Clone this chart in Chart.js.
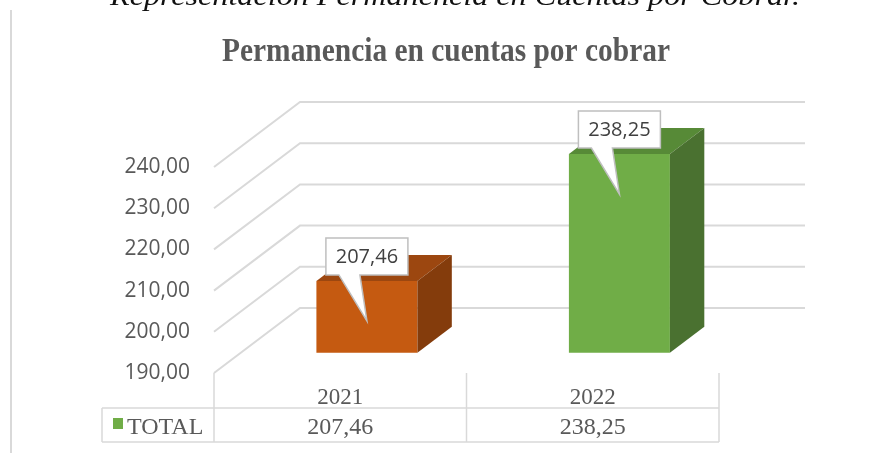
<!DOCTYPE html>
<html>
<head>
<meta charset="utf-8">
<script src="https://cdn.jsdelivr.net/npm/chart.js@4/dist/chart.umd.min.js"></script>
<style>
  html, body { margin: 0; padding: 0; background: #fff; }
</style>
</head>
<body>
<canvas id="permanencia" width="872" height="453"></canvas>
<script>
var categories = ['2021', '2022'];
var totals = [207.46, 238.25];
var yMin = 190;
var yMax = 240;
var yStep = 10;
var seriesName = 'TOTAL';

var frontColors = ['#C55A11', '#70AD47'];
var topColors = ['#9C4710', '#578A37'];
var sideColors = ['#843C0C', '#4A7130'];

// oblique 3d offsets (whole floor depth, bar sits in the middle of it)
var depthX = 86, depthY = -65;
var barShift = 0.31, barDepth = 0.4;

function fmt(v) {
    return v.toFixed(2).replace('.', ',');
}

var fake3d = {
    id: 'fake3d',
    beforeDatasetsDraw: function (chart) {
        var ctx = chart.ctx, area = chart.chartArea, y = chart.scales.y;
        ctx.save();
        ctx.strokeStyle = '#d9d9d9';
        ctx.lineWidth = 2;
        for (var v = yMin; v <= yMax; v += yStep) {
            var py = y.getPixelForValue(v);
            ctx.beginPath();
            ctx.moveTo(area.left, py);
            ctx.lineTo(area.left + depthX, py + depthY);
            ctx.lineTo(area.right + depthX, py + depthY);
            ctx.stroke();
        }
        ctx.restore();
        ctx.save();
        ctx.translate(depthX * barShift, depthY * barShift);
    },
    afterDatasetsDraw: function (chart) {
        var ctx = chart.ctx;
        ctx.restore();
        var dx = depthX * barShift, dy = depthY * barShift;
        var bx = depthX * barDepth, by = depthY * barDepth;
        var bars = chart.getDatasetMeta(0).data;
        bars.forEach(function (el, i) {
            var x0 = el.x - el.width / 2 + dx, x1 = el.x + el.width / 2 + dx;
            var yt = el.y + dy, yb = el.base + dy;
            // top face
            ctx.fillStyle = topColors[i];
            ctx.beginPath();
            ctx.moveTo(x0, yt);
            ctx.lineTo(x1, yt);
            ctx.lineTo(x1 + bx, yt + by);
            ctx.lineTo(x0 + bx, yt + by);
            ctx.closePath();
            ctx.fill();
            // side face
            ctx.fillStyle = sideColors[i];
            ctx.beginPath();
            ctx.moveTo(x1, yt);
            ctx.lineTo(x1 + bx, yt + by);
            ctx.lineTo(x1 + bx, yb + by);
            ctx.lineTo(x1, yb);
            ctx.closePath();
            ctx.fill();

            // callout label
            var cx = el.x + dx;
            var w = 82, h = 37;
            var left = cx - w / 2, bottom = yt - 6, top = bottom - h;
            ctx.beginPath();
            ctx.moveTo(left, top);
            ctx.lineTo(left + w, top);
            ctx.lineTo(left + w, bottom);
            ctx.lineTo(cx - 7, bottom);
            ctx.lineTo(cx, yt + 40);
            ctx.lineTo(cx - 28, bottom);
            ctx.lineTo(left, bottom);
            ctx.closePath();
            ctx.fillStyle = '#ffffff';
            ctx.fill();
            ctx.strokeStyle = '#bfbfbf';
            ctx.lineWidth = 1.5;
            ctx.stroke();
            ctx.fillStyle = '#404040';
            ctx.font = '20px "Open Sans"';
            ctx.textAlign = 'center';
            ctx.textBaseline = 'middle';
            ctx.fillText(fmt(totals[i]), cx, (top + bottom) / 2 + 1);
        });
    },
    afterDraw: function (chart) {
        var ctx = chart.ctx, area = chart.chartArea, x = chart.scales.x;
        ctx.save();
        // frame line on the left
        ctx.strokeStyle = '#d9d9d9';
        ctx.lineWidth = 2;
        ctx.beginPath();
        ctx.moveTo(11, 10);
        ctx.lineTo(11, 453);
        ctx.stroke();

        // data table
        var tTop = area.bottom, rowY = 408, tBottom = 442, tLeft = 102;
        var half = (x.getPixelForValue(1) - x.getPixelForValue(0)) / 2;
        ctx.lineWidth = 1.5;
        ctx.beginPath();
        var edges = [area.left];
        categories.forEach(function (c, i) {
            edges.push(x.getPixelForValue(i) + half);
        });
        edges[edges.length - 1] = area.right;
        edges.forEach(function (ex) {
            ctx.moveTo(ex, tTop);
            ctx.lineTo(ex, tBottom);
        });
        ctx.moveTo(tLeft, rowY);
        ctx.lineTo(tLeft, tBottom);
        ctx.moveTo(tLeft, rowY);
        ctx.lineTo(area.right, rowY);
        ctx.moveTo(tLeft, tBottom);
        ctx.lineTo(area.right, tBottom);
        ctx.stroke();

        ctx.fillStyle = '#595959';
        ctx.textAlign = 'center';
        ctx.textBaseline = 'alphabetic';
        categories.forEach(function (c, i) {
            var px = x.getPixelForValue(i);
            ctx.font = '23px "Liberation Serif"';
            ctx.fillText(c, px, 404);
            ctx.font = '24px "Liberation Serif"';
            ctx.fillText(fmt(totals[i]), px, 434);
        });
        ctx.fillStyle = frontColors[1];
        ctx.fillRect(113, 418, 10, 11);
        ctx.fillStyle = '#595959';
        ctx.textAlign = 'left';
        ctx.font = '24px "Liberation Serif"';
        ctx.fillText(seriesName, 127, 434);

        // chart title, condensed like the original
        var title = 'Permanencia en cuentas por cobrar';
        ctx.font = 'bold 33px "Liberation Serif"';
        var tw = ctx.measureText(title).width;
        ctx.save();
        ctx.translate(446, 61);
        ctx.scale(448 / tw, 1);
        ctx.textAlign = 'center';
        ctx.fillStyle = '#595959';
        ctx.fillText(title, 0, 0);
        ctx.restore();

        // caption above, cut off by the top edge
        var caption = 'Representación Permanencia en Cuentas por Cobrar.';
        ctx.font = 'italic 28px "Liberation Serif"';
        var cw = ctx.measureText(caption).width;
        ctx.save();
        ctx.translate(110, 5);
        ctx.scale(690 / cw, 1);
        ctx.textAlign = 'left';
        ctx.fillStyle = '#111111';
        ctx.fillText(caption, 0, 0);
        ctx.restore();
        ctx.restore();
    }
};

var permanenciaChart = new Chart(document.getElementById('permanencia'), {
    type: 'bar',
    data: {
        labels: categories,
        datasets: [{
            label: seriesName,
            data: totals,
            base: yMin,
            backgroundColor: frontColors,
            borderWidth: 0,
            categoryPercentage: 1,
            barPercentage: 0.4,
            clip: false
        }]
    },
    options: {
        responsive: false,
        animation: false,
        layout: {
            padding: { left: 0, top: 167, right: 153, bottom: 80 }
        },
        plugins: {
            legend: { display: false },
            tooltip: { enabled: false },
            title: { display: false }
        },
        scales: {
            x: {
                display: false
            },
            y: {
                min: yMin,
                max: yMax,
                grid: { display: false, drawTicks: false },
                border: { display: false },
                ticks: {
                    stepSize: yStep,
                    padding: 24,
                    color: '#595959',
                    font: { family: 'Open Sans', size: 21 },
                    callback: function (v) { return fmt(v); }
                },
                afterFit: function (scale) {
                    scale.width = 214;
                }
            }
        }
    },
    plugins: [fake3d]
});
</script>
</body>
</html>
